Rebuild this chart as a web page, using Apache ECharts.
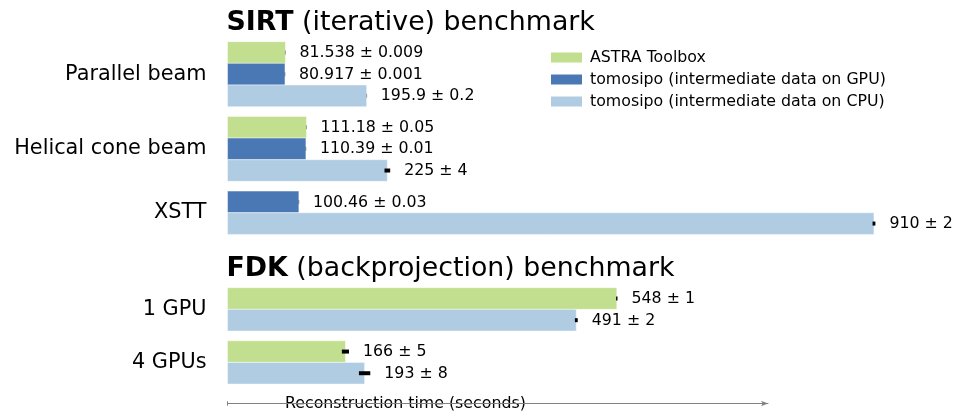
<!DOCTYPE html>
<html>
<head>
<meta charset="utf-8">
<script src="https://cdn.jsdelivr.net/npm/echarts@6/dist/echarts.min.js"></script>
<style>
  html, body { margin: 0; padding: 0; background: #fff; }
  #chart { width: 955px; height: 413px; }
</style>
</head>
<body>
<div id="chart"></div>
<script>
// ---- data ----
const seriesNames = ['ASTRA Toolbox', 'tomosipo (intermediate data on GPU)', 'tomosipo (intermediate data on CPU)'];
const sirtCategories = ['Parallel beam', 'Helical cone beam', 'XSTT'];
const sirtAstra    = [81.538, 111.18, null];
const sirtAstraErr = [0.009, 0.05, null];
const sirtGpu      = [80.917, 110.39, 100.46];
const sirtGpuErr   = [0.001, 0.01, 0.03];
const sirtCpu      = [195.9, 225, 910];
const sirtCpuErr   = [0.2, 4, 2];

const fdkCategories = ['1 GPU', '4 GPUs'];
const fdkAstra    = [548, 166];
const fdkAstraErr = [1, 5];
const fdkCpu      = [491, 193];
const fdkCpuErr   = [2, 8];

const xAxisName = 'Reconstruction time (seconds)';

// ---- styling ----
const colors = ['#c2df8f', '#4a78b4', '#b0cce3'];
const FONT = 'DejaVu Sans';
const SMALL = 15.8;
const BAR = 21.65;        // px per bar slot
const GAP = 0.45;         // gap between groups in bar units

function buildPanel(cats, vals, errs) {
  const present = vals.filter(a => a);
  const pitch = present.length + GAP;
  const out = vals.map(() => []);
  const centers = [];
  let maxY = 0;
  cats.forEach((c, g) => {
    let slot = 0;
    vals.forEach((arr, si) => {
      if (!arr || arr[g] == null) return;
      out[si].push([arr[g], g * pitch + slot + 0.5, errs[si][g]]);
      slot++;
    });
    centers.push(g * pitch + slot / 2);
    maxY = g * pitch + slot;
  });
  return { out, centers, maxY };
}

const sirt = buildPanel(sirtCategories, [sirtAstra, sirtGpu, sirtCpu], [sirtAstraErr, sirtGpuErr, sirtCpuErr]);
const fdk = buildPanel(fdkCategories, [fdkAstra, null, fdkCpu], [fdkAstraErr, null, fdkCpuErr]);

function makeRender(color) {
  return function (params, api) {
    const v = api.value(0), y = api.value(1), err = api.value(2);
    const p0 = api.coord([0, y]);
    const p1 = api.coord([v, y]);
    const h = api.size([0, 1])[1];
    const e0 = api.coord([v - err, y]);
    const e1 = api.coord([v + err, y]);
    let ew = e1[0] - e0[0];
    const faint = ew < 1;
    if (ew < 1) ew = 1;
    return {
      type: 'group',
      children: [
        { type: 'rect', shape: { x: p0[0], y: p0[1] - h / 2, width: p1[0] - p0[0], height: h },
          style: { fill: color, stroke: 'rgba(255,255,255,0.45)', lineWidth: 1 } },
        { type: 'rect', shape: { x: (e0[0] + e1[0]) / 2 - ew / 2, y: p1[1] - 2, width: ew, height: 4 },
          style: { fill: faint ? 'rgba(0,0,0,0.35)' : '#000' } },
        { type: 'text', x: e1[0] + 14, y: p1[1] + 0.5,
          style: { text: String(v) + ' \u00b1 ' + String(err), fill: '#000',
                   fontFamily: FONT, fontSize: SMALL, verticalAlign: 'middle', align: 'left' } }
      ]
    };
  };
}

const series = [];
[sirt, fdk].forEach((panel, gi) => {
  panel.out.forEach((data, si) => {
    if (!data.length) return;
    series.push({
      type: 'custom', name: seriesNames[si], xAxisIndex: gi, yAxisIndex: gi,
      itemStyle: { color: colors[si] },
      renderItem: makeRender(colors[si]), data: data, clip: false,
      encode: { x: 0, y: 1 }
    });
  });
});

const XMAX = 1000;
const left = 227.5, width = 710.4;

function yAxisFor(panel, cats, gi) {
  return {
    type: 'value', gridIndex: gi, inverse: true, min: 0, max: panel.maxY,
    axisLine: { show: false }, axisTick: { show: false }, splitLine: { show: false },
    axisLabel: {
      show: true, customValues: panel.centers, margin: 21,
      fontFamily: FONT, fontSize: 20.8, color: '#000', padding: [4, 0, 0, 0],
      formatter: function (val) {
        let best = 0, bd = Infinity;
        panel.centers.forEach((c, i) => { const d = Math.abs(c - val); if (d < bd) { bd = d; best = i; } });
        return cats[best];
      }
    }
  };
}

const option = {
  animation: false,
  backgroundColor: '#fff',
  title: [
    { text: '{b|SIRT} (iterative) benchmark', left: 226.5, top: 8.5, padding: 0,
      textStyle: { fontFamily: FONT, fontSize: 26.8, fontWeight: 'normal', color: '#000', lineHeight: 30,
        rich: { b: { fontFamily: FONT, fontSize: 26.8, fontWeight: 'bold', color: '#000', lineHeight: 30 } } } },
    { text: '{b|FDK} (backprojection) benchmark', left: 226.5, top: 254, padding: 0,
      textStyle: { fontFamily: FONT, fontSize: 26.8, fontWeight: 'normal', color: '#000', lineHeight: 30,
        rich: { b: { fontFamily: FONT, fontSize: 26.8, fontWeight: 'bold', color: '#000', lineHeight: 30 } } } }
  ],
  legend: {
    data: seriesNames, orient: 'vertical', left: 551, top: 49.5, padding: 0,
    itemWidth: 31, itemHeight: 10, itemGap: 6, icon: 'rect',
    textStyle: { fontFamily: FONT, fontSize: SMALL, color: '#000', lineHeight: 16, padding: [0, 0, 0, 3] },
    selectedMode: false
  },
  grid: [
    { left: left, width: width, top: 41.7, height: sirt.maxY * BAR },
    { left: left, width: width, top: 287.7, height: fdk.maxY * BAR },
    { left: left, right: 187, top: 401.7, height: 4.6 }
  ],
  xAxis: [
    { type: 'value', gridIndex: 0, min: 0, max: XMAX, show: false },
    { type: 'value', gridIndex: 1, min: 0, max: XMAX, show: false },
    { type: 'value', gridIndex: 2, min: 0, max: 1,
      axisLine: { show: true, onZero: true, symbol: ['none', 'arrow'], symbolSize: [4, 7],
                  lineStyle: { color: '#808080', width: 1 } },
      axisTick: { show: false }, axisLabel: { show: false }, splitLine: { show: false },
      name: xAxisName, nameLocation: 'start', nameGap: -46.5,
      nameTextStyle: { fontFamily: FONT, fontSize: SMALL, color: '#000', align: 'left', verticalAlign: 'middle',
                       backgroundColor: '#fff', padding: [3, 11, 1, 11] } }
  ],
  yAxis: [
    yAxisFor(sirt, sirtCategories, 0),
    yAxisFor(fdk, fdkCategories, 1),
    { type: 'value', gridIndex: 2, min: -1, max: 1,
      axisLine: { show: true, lineStyle: { color: '#808080', width: 1 } },
      axisTick: { show: false }, axisLabel: { show: false }, splitLine: { show: false } }
  ],
  series: series
};

const chart = echarts.init(document.getElementById('chart'), null, { renderer: 'canvas' });
chart.setOption(option);
</script>
</body>
</html>
